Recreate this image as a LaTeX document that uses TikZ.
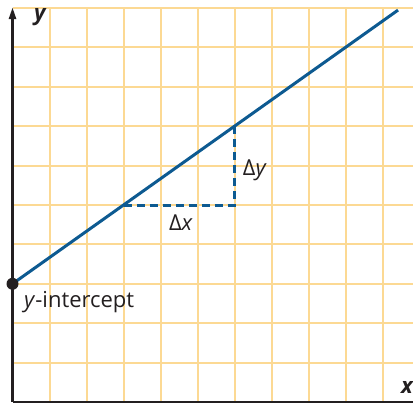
\documentclass[tikz,border=0pt]{standalone}
\usepackage{fontspec}
\setmainfont{Open Sans}
\usepackage{tikz}
\usetikzlibrary{arrows.meta}

\definecolor{gridorange}{HTML}{FCD993}
\definecolor{lineblue}{HTML}{0D5A91}
\definecolor{axisgray}{HTML}{231F20}

\begin{document}
\begin{tikzpicture}[x=37pt, y=39.4pt,
                gridline/.style={draw=gridorange, line width=2pt},
                axisline/.style={draw=axisgray, line width=2.6pt, -{Triangle[length=12pt, width=7pt]}},
                slopeline/.style={draw=lineblue, line width=3pt},
                deltaline/.style={draw=lineblue, line width=3pt, dash pattern=on 8pt off 5pt},
                every node/.style={font=\fontsize{22}{25}\selectfont, text=axisgray, inner sep=0pt},
                axislabel/.style={font=\fontsize{22}{24}\selectfont\bfseries\itshape}
            ]
                \useasboundingbox (-0.338,-0.051) rectangle (10.824,10.203);
                % grid
                \foreach \i in {1,...,10}
                    \draw[gridline] (\i,0) -- (\i,10);
                \foreach \j in {1,...,10}
                    \draw[gridline] (0,\j) -- (10.9,\j);
                % axes
                \coordinate (O) at (0,0);
                \coordinate (ytop) at (0,10.02);
                \coordinate (xend) at (11.2,0);
                \draw[axisline] (O) -- (ytop);
                \draw[axisline] (O) -- (xend);
                \node[axislabel] (ylab) at (0.74,9.76) {y};
                \node[axislabel] (xlab) at (10.66,0.36) {x};
                % line and slope triangle
                \coordinate (yint) at (0,3);
                \coordinate (lineend) at (10.42,9.947);
                \coordinate (run) at (3,5);
                \coordinate (corner) at (6,5);
                \coordinate (rise) at (6,7);
                \draw[slopeline] (yint) -- (lineend);
                \draw[deltaline] (run) -- (corner) -- (rise);
                \node (dx) at (4.55,4.55) {Δ\textit{x}};
                \node (dy) at (6.55,5.87) {Δ\textit{y}};
                \fill[axisgray] (yint) circle (6pt);
                \node[anchor=base west] (ylabel) at (0.31,2.39) {\textit{y}-intercept};
            \end{tikzpicture}
\end{document}
